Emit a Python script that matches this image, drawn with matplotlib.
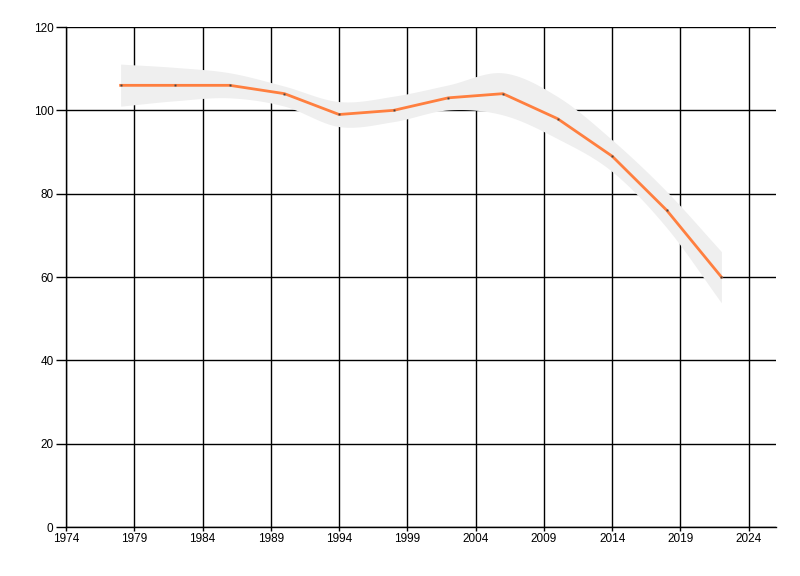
import numpy as np
import matplotlib
matplotlib.use("Agg")
import matplotlib.pyplot as plt

years = [1978, 1982, 1986, 1990, 1994, 1998, 2002, 2006, 2010, 2014, 2018, 2022]
values = [106, 106, 106, 104, 99, 100, 103, 104, 98, 89, 76, 60]
band_upper = [111.1, 110.3, 109.0, 105.8, 102.1, 103.4, 106.1, 109.0, 103.3, 92.9, 80.5, 66.1]
band_lower = [101.0, 102.3, 103.0, 101.0, 96.1, 97.3, 100.1, 98.9, 93.2, 85.3, 71.8, 53.8]
x_ticks = list(range(1974, 2025, 5))
y_ticks = list(range(0, 121, 20))


def catmull_rom(xs, ys, n=20):
    xs = np.asarray(xs, float)
    ys = np.asarray(ys, float)
    px = np.concatenate([[2 * xs[0] - xs[1]], xs, [2 * xs[-1] - xs[-2]]])
    py = np.concatenate([[2 * ys[0] - ys[1]], ys, [2 * ys[-1] - ys[-2]]])
    outx, outy = [], []
    for i in range(1, len(px) - 2):
        t = np.linspace(0, 1, n, endpoint=False)
        for arr, out in ((px, outx), (py, outy)):
            p0, p1, p2, p3 = arr[i - 1], arr[i], arr[i + 1], arr[i + 2]
            out.extend(0.5 * ((2 * p1) + (-p0 + p2) * t
                              + (2 * p0 - 5 * p1 + 4 * p2 - p3) * t ** 2
                              + (-p0 + 3 * p1 - 3 * p2 + p3) * t ** 3))
    outx.append(xs[-1])
    outy.append(ys[-1])
    return np.array(outx), np.array(outy)


plt.rcParams['font.family'] = ['Liberation Sans', 'DejaVu Sans']
fig = plt.figure(figsize=(8, 5.76), dpi=100)
ax = fig.add_axes([66 / 800, 1 - 527 / 576, (776 - 66) / 800, 500 / 576])

sx, su = catmull_rom(years, band_upper)
_, sl = catmull_rom(years, band_lower)
ax.fill_between(sx, sl, su, color='#efefef', lw=0, zorder=2)

ax.plot(years, values, color='#ff7f3f', lw=2, zorder=3)
ax.plot(years, values, ls='none', marker='s', ms=1.4, mew=0, color='#444444', zorder=4)

ax.set_xlim(1974, 2026)
ax.set_ylim(0, 120)
ax.set_xticks(x_ticks)
ax.set_yticks(y_ticks)
ax.grid(True, color='black', lw=1, zorder=1)
ax.set_axisbelow(True)
for s in ('top', 'right'):
    ax.spines[s].set_visible(False)
for s in ('left', 'bottom'):
    ax.spines[s].set_color('black')
    ax.spines[s].set_linewidth(1)
    ax.spines[s].set_zorder(5)
ax.tick_params(axis='y', length=7, width=1, labelsize=8.5, pad=2, colors='black')
ax.tick_params(axis='x', length=3, width=1, labelsize=8.5, pad=1, colors='black')

fig.savefig('out.png', dpi=100)
